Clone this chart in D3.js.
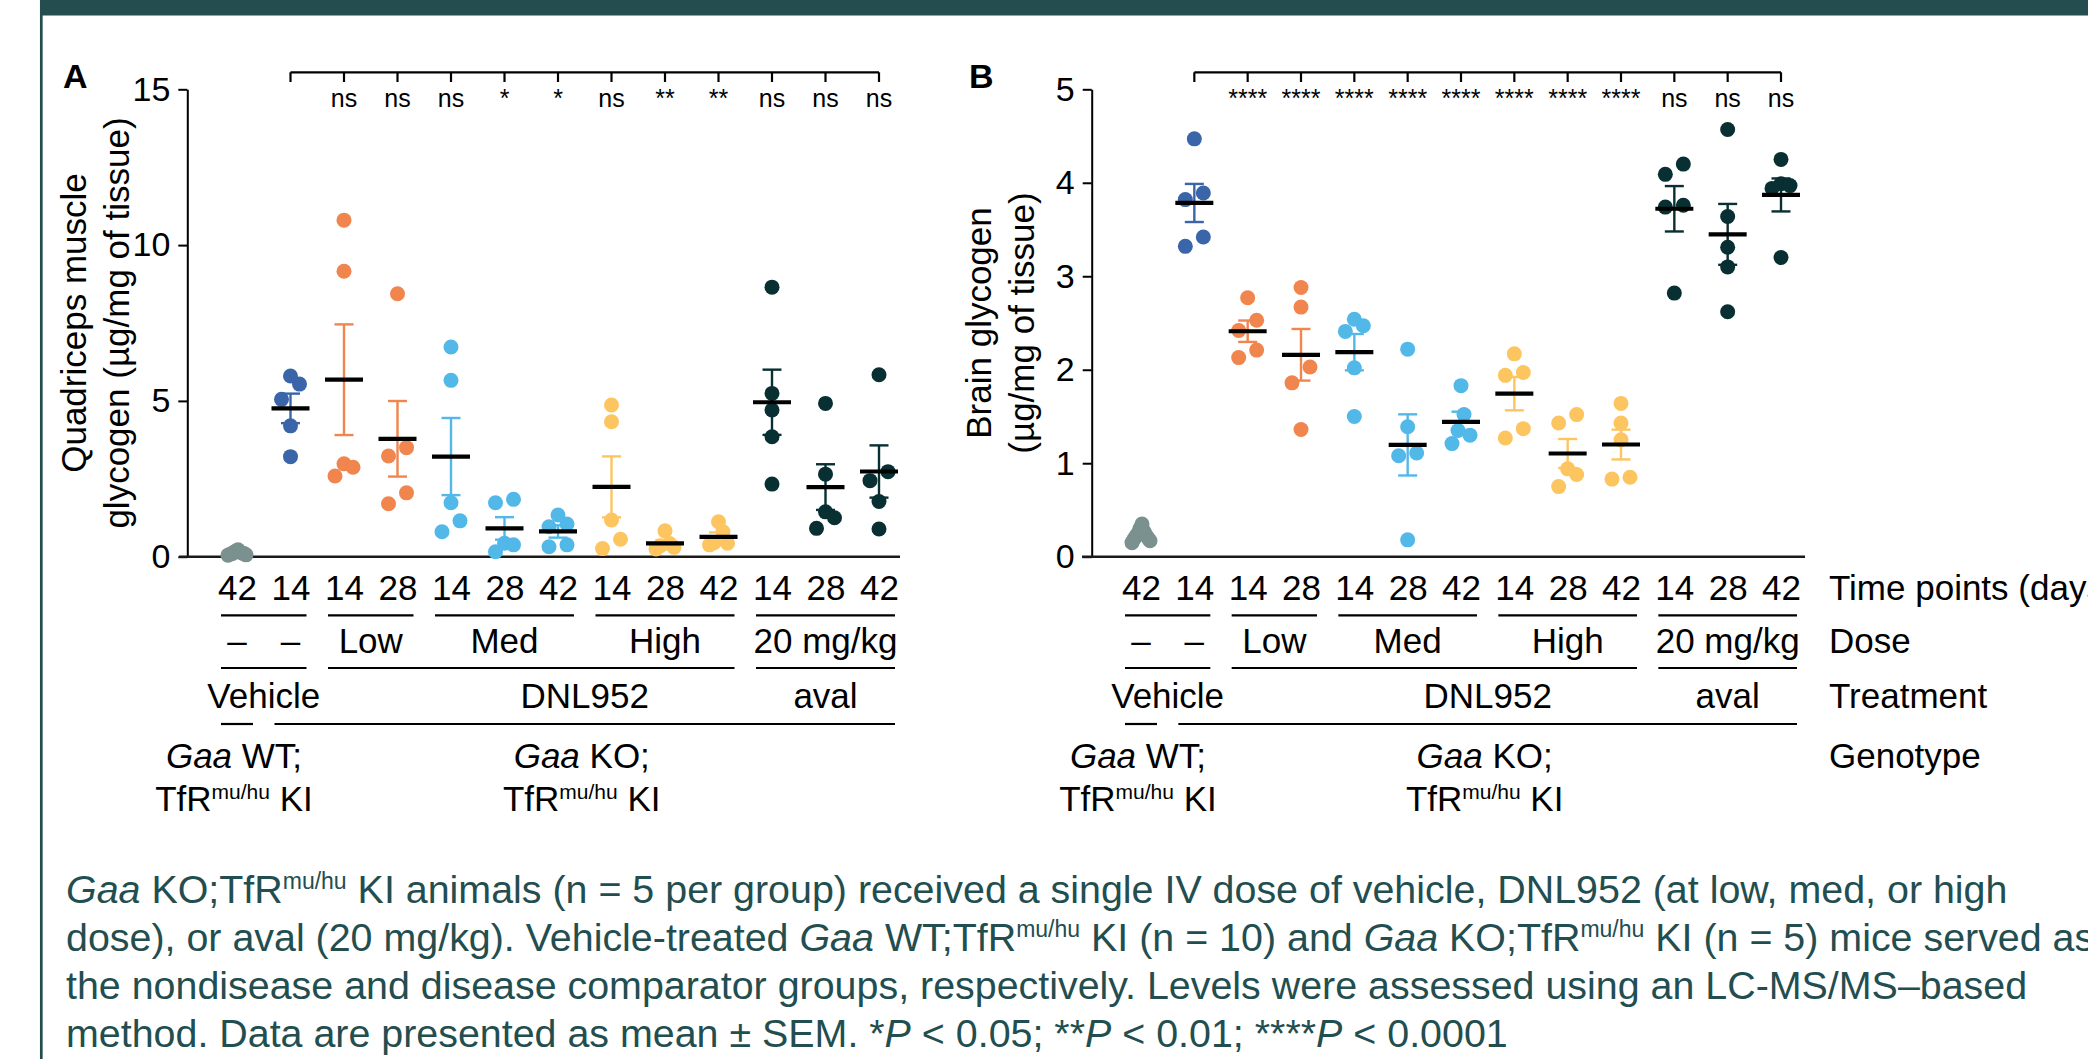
<!DOCTYPE html>
<html><head><meta charset="utf-8">
<script src="https://cdn.jsdelivr.net/npm/d3@7"></script>
<style>
body{margin:0;background:#fff;overflow:hidden}
svg{display:block}
text{white-space:pre}
</style></head><body>
<svg id="fig" width="2088" height="1059"></svg>
<script>
// ---------- data ----------
const timePoints = ["42","14","14","28","14","28","42","14","28","42","14","28","42"];
const groupColors = ["#7a918f","#3a65a9","#f0854e","#f0854e","#52b8e8","#52b8e8","#52b8e8",
                     "#fdc560","#fdc560","#fdc560","#082f32","#082f32","#082f32"];
// Quadriceps muscle glycogen (µg/mg of tissue)
const quadValues = [
  [0.22,0.18,0.15,0.14,0.12,0.10,0.10,0.08,0.06,0.05],
  [5.80,5.54,5.05,4.20,3.21],
  [10.80,9.16,2.98,2.87,2.59],
  [8.44,3.50,3.23,2.05,1.70],
  [6.73,5.66,1.73,1.15,0.80],
  [1.84,1.73,0.43,0.38,0.16],
  [1.34,1.05,0.96,0.38,0.32],
  [4.87,4.33,1.18,0.56,0.26],
  [0.83,0.42,0.35,0.30,0.25],
  [1.12,0.80,0.45,0.43,0.38],
  [8.65,5.24,4.71,3.85,2.33],
  [4.92,2.65,1.44,1.25,0.91],
  [5.84,2.73,2.44,1.77,0.89]
];
// Brain glycogen (µg/mg of tissue)
const brainValues = [
  [0.35,0.30,0.27,0.25,0.23,0.22,0.20,0.19,0.17,0.15],
  [4.47,3.89,3.82,3.42,3.32],
  [2.77,2.53,2.42,2.21,2.13],
  [2.88,2.67,2.03,1.86,1.36],
  [2.54,2.47,2.41,2.02,1.50],
  [2.22,1.39,1.11,1.08,0.18],
  [1.83,1.52,1.35,1.30,1.21],
  [2.17,1.97,1.94,1.37,1.27],
  [1.52,1.43,0.94,0.88,0.75],
  [1.64,1.43,1.25,0.85,0.83],
  [4.20,4.09,3.76,3.74,2.82],
  [4.57,3.64,3.31,3.10,2.62],
  [4.25,3.99,3.97,3.94,3.20]
];
const quadTicks = [0,5,10,15];
const brainTicks = [0,1,2,3,4,5];
// significance vs vehicle KO group (group 1), for groups 2..12
const sigQuad  = ["ns","ns","ns","*","*","ns","**","**","ns","ns","ns"];
const sigBrain = ["****","****","****","****","****","****","****","****","ns","ns","ns"];
// category rows below the axis
const doseLines = [[0,1],[2,3],[4,6],[7,9],[10,12]];
const doseLabels = [{t:"–",span:[0,0]},{t:"–",span:[1,1]},{t:"Low",span:[2,3]},{t:"Med",span:[4,6]},{t:"High",span:[7,9]},{t:"20 mg/kg",span:[10,12]}];
const treatLines = [[0,1],[2,9],[10,12]];
const treatLabels = [{t:"Vehicle",span:[0,1]},{t:"DNL952",span:[1,12]},{t:"aval",span:[10,12]}];
const genoLines = [[0,0],[1,12]];
const genoLabels = [
  {span:[0,0], l1:[{t:"Gaa",i:1},{t:" WT;"}], l2:[{t:"TfR"},{t:"mu/hu",sup:1},{t:" KI"}]},
  {span:[1,12],l1:[{t:"Gaa",i:1},{t:" KO;"}], l2:[{t:"TfR"},{t:"mu/hu",sup:1},{t:" KI"}]}
];
const rowNames = ["Time points (days)","Dose","Treatment","Genotype"];
const captionLines = [
  [{t:"Gaa",i:1},{t:" KO;TfR"},{t:"mu/hu",sup:1},{t:" KI animals (n = 5 per group) received a single IV dose of vehicle, DNL952 (at low, med, or high"}],
  [{t:"dose), or aval (20 mg/kg). Vehicle-treated "},{t:"Gaa",i:1},{t:" WT;TfR"},{t:"mu/hu",sup:1},{t:" KI (n = 10) and "},{t:"Gaa",i:1},{t:" KO;TfR"},{t:"mu/hu",sup:1},{t:" KI (n = 5) mice served as"}],
  [{t:"the nondisease and disease comparator groups, respectively. Levels were assessed using an LC-MS/MS–based"}],
  [{t:"method. Data are presented as mean ± SEM. *"},{t:"P",i:1},{t:" < 0.05; **"},{t:"P",i:1},{t:" < 0.01; ****"},{t:"P",i:1},{t:" < 0.0001"}]
];

// ---------- drawing ----------
const FONT = '"Liberation Sans", Arial, Helvetica, sans-serif';
const NARROW = '"Liberation Sans Narrow", "Arial Narrow", "Liberation Sans", Arial, sans-serif';
const TEAL = "#244d4f";
const svg = d3.select("#fig");

svg.append("rect").attr("x",40).attr("y",0).attr("width",2048).attr("height",15.5).attr("fill",TEAL);
svg.append("line").attr("x1",41.3).attr("x2",41.3).attr("y1",0).attr("y2",1059)
   .attr("stroke",TEAL).attr("stroke-width",2.7);

function rich(textSel, parts, size, supSize, supShift) {
  parts.forEach((p, k) => {
    const ts = textSel.append("tspan").text(p.t);
    if (p.i) ts.attr("font-style","italic");
    if (p.sup) {
      ts.attr("font-size", supSize).attr("dy", -supShift);
    } else if (k > 0 && parts[k-1].sup) {
      ts.attr("dy", supShift);
    }
  });
}

function swarmOffsets(vals, y, d, T) {
  const idx = vals.map((v,i)=>i).sort((a,b)=>vals[b]-vals[a]);
  const rows = []; let cur = [];
  idx.forEach((i,k)=>{
    if (k>0 && Math.abs(y(vals[i]) - y(vals[idx[k-1]])) >= T) { rows.push(cur); cur = []; }
    cur.push(i);
  });
  rows.push(cur);
  const off = new Array(vals.length).fill(0);
  rows.forEach(r=>{
    const k = r.length;
    if (k === 2) { off[r[0]] = d; off[r[1]] = -d; }
    else if (k === 3) { off[r[0]] = 0; off[r[1]] = d; off[r[2]] = -d; }
    else if (k > 3) {
      const step = 2*d/(k-1);
      const slots = d3.range(k).map(j=>-d+j*step).sort((a,b)=>Math.abs(a)-Math.abs(b) || b-a);
      r.forEach((i,j)=>off[i]=slots[j]);
    }
  });
  return off;
}

function panel(cfg) {
  const g = svg.append("g");
  const x = d3.scalePoint().domain(d3.range(timePoints.length)).range(cfg.xRange);
  const y = d3.scaleLinear().domain(cfg.yDomain).range([556.7, 89.3]);

  // panel letter
  g.append("text").attr("x",cfg.letterX).attr("y",88).text(cfg.letter)
    .attr("font-family",FONT).attr("font-weight","bold").attr("font-size",34);

  // y axis title
  const tt = g.append("g");
  cfg.title.forEach((line,k)=>{
    tt.append("text").attr("transform",`translate(${cfg.titleX[k]},323) rotate(-90)`)
      .attr("text-anchor","middle").attr("font-family",FONT).attr("font-size",35).text(line);
  });

  // y axis
  const ya = g.append("g").attr("transform",`translate(${cfg.axisX},0)`)
    .call(d3.axisLeft(y).tickValues(cfg.yTicks).tickFormat(d3.format("d"))
      .tickSize(9).tickSizeOuter(0).tickPadding(8));
  ya.attr("font-family",FONT).attr("font-size",34);
  ya.select(".domain").attr("stroke","#000").attr("stroke-width",2);
  ya.selectAll(".tick line").attr("stroke","#000").attr("stroke-width",2);
  ya.selectAll(".tick text").attr("fill","#000");

  // x axis line
  g.append("line").attr("x1",cfg.xAxis[0]).attr("x2",cfg.xAxis[1]).attr("y1",y(0)).attr("y2",y(0))
    .attr("stroke","#1a1a1a").attr("stroke-width",2.6);

  // time point labels via axis
  const xa = g.append("g").attr("transform",`translate(0,${y(0)})`)
    .call(d3.axisBottom(x).tickSize(0).tickPadding(18).tickFormat(i=>timePoints[i]));
  xa.select(".domain").remove();
  xa.attr("font-family",FONT).attr("font-size",35);
  xa.selectAll(".tick text").attr("fill","#000");

  // data
  cfg.values.forEach((vals, gi)=>{
    const col = groupColors[gi];
    const off = swarmOffsets(vals, y, 9, 16);
    g.append("g").selectAll("circle").data(vals).join("circle")
      .attr("cx",(v,i)=>x(gi)+off[i]).attr("cy",v=>y(v)).attr("r",7.5).attr("fill",col);
    if (gi === 0) return;
    const m = d3.mean(vals), sem = d3.deviation(vals)/Math.sqrt(vals.length);
    const eb = g.append("g").attr("stroke",col).attr("stroke-width",2.4);
    eb.append("line").attr("x1",x(gi)).attr("x2",x(gi)).attr("y1",y(m-sem)).attr("y2",y(m+sem));
    [m-sem, m+sem].forEach(v=>eb.append("line").attr("x1",x(gi)-9.5).attr("x2",x(gi)+9.5).attr("y1",y(v)).attr("y2",y(v)));
    g.append("line").attr("x1",x(gi)-19).attr("x2",x(gi)+19).attr("y1",y(m)).attr("y2",y(m))
      .attr("stroke","#000").attr("stroke-width",4.2);
  });

  // significance bracket
  const br = g.append("g").attr("stroke","#000").attr("stroke-width",2.2).attr("fill","none");
  br.append("line").attr("x1",x(1)).attr("x2",x(12)).attr("y1",72.3).attr("y2",72.3);
  d3.range(1,13).forEach(i=>br.append("line").attr("x1",x(i)).attr("x2",x(i)).attr("y1",72.3).attr("y2",82));
  g.append("g").selectAll("text").data(cfg.sig).join("text")
    .attr("x",(s,k)=>x(k+2)).attr("y",107).attr("text-anchor","middle")
    .attr("font-family",NARROW).attr("font-size",25).text(d=>d);

  // category rows
  const segs = (list, yy) => list.forEach(sp=>g.append("line")
      .attr("x1",x(sp[0])-16).attr("x2",x(sp[1])+16).attr("y1",yy).attr("y2",yy)
      .attr("stroke","#000").attr("stroke-width",2.2));
  const mid = sp => (x(sp[0])+x(sp[1]))/2;
  segs(doseLines, 615.3);
  segs(treatLines, 668);
  segs(genoLines, 724);
  g.append("g").selectAll("text").data(doseLabels).join("text")
    .attr("x",d=>mid(d.span)).attr("y",653).attr("text-anchor","middle")
    .attr("font-family",FONT).attr("font-size",35).text(d=>d.t);
  g.append("g").selectAll("text").data(treatLabels).join("text")
    .attr("x",d=>mid(d.span)).attr("y",708).attr("text-anchor","middle")
    .attr("font-family",FONT).attr("font-size",35).text(d=>d.t);
  genoLabels.forEach(d=>{
    const t1 = g.append("text").attr("x",mid(d.span)-3).attr("y",768).attr("text-anchor","middle")
      .attr("font-family",FONT).attr("font-size",35);
    rich(t1, d.l1, 35, 21, 12);
    const t2 = g.append("text").attr("x",mid(d.span)-3).attr("y",811).attr("text-anchor","middle")
      .attr("font-family",FONT).attr("font-size",35);
    rich(t2, d.l2, 35, 21, 12);
  });

  if (cfg.rowNames) {
    g.append("g").selectAll("text").data(rowNames).join("text")
      .attr("x",1829).attr("y",(d,i)=>[600,653,708,768][i])
      .attr("font-family",FONT).attr("font-size",35).text(d=>d);
  }
}

panel({letter:"A", letterX:63, axisX:187.3, xRange:[237,879], xAxis:[179,900],
       yDomain:[0,15], yTicks:quadTicks, values:quadValues, sig:sigQuad,
       title:["Quadriceps muscle","glycogen (µg/mg of tissue)"], titleX:[86,129]});
panel({letter:"B", letterX:969, axisX:1091.7, xRange:[1141,1781], xAxis:[1082,1805],
       yDomain:[0,5], yTicks:brainTicks, values:brainValues, sig:sigBrain,
       title:["Brain glycogen","(µg/mg of tissue)"], titleX:[990.5,1033.5], rowNames:true});

// caption
const cap = svg.append("g").attr("fill","#234e50").attr("font-family",FONT).attr("font-size",39.4);
captionLines.forEach((parts,k)=>{
  const t = cap.append("text").attr("x",66).attr("y",903 + k*48);
  rich(t, parts, 39.4, 23, 14);
});
</script>
</body></html>
